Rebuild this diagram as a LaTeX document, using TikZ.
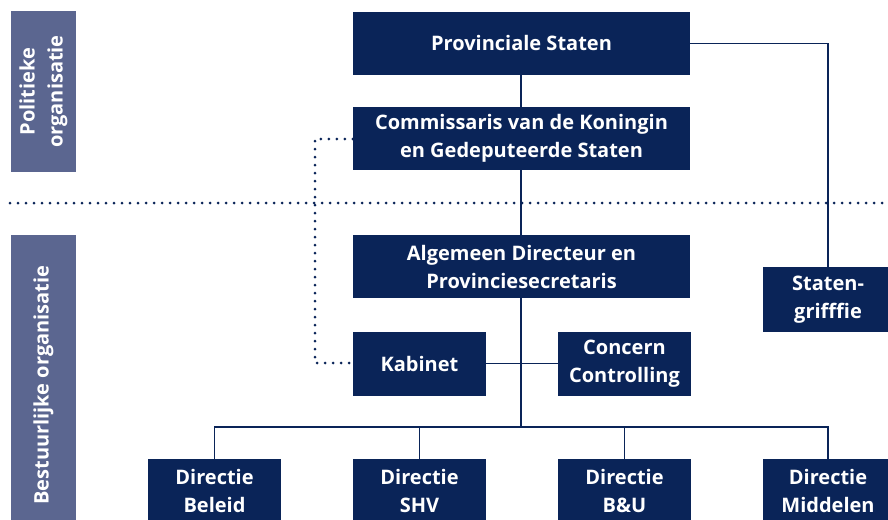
\documentclass[tikz,border=0pt]{standalone}
\usepackage{fontspec}
\setmainfont{Open Sans}
\definecolor{navy}{HTML}{0A2458}
\definecolor{lab}{HTML}{5B6690}
\begin{document}
\begin{tikzpicture}[x=1pt,y=-1pt,
  box/.style={fill=navy,text=white,font=\bfseries\fontsize{20}{28}\selectfont,align=center,inner sep=0pt},
  side/.style={fill=lab,text=white,font=\bfseries\fontsize{20}{28}\selectfont,align=center,inner sep=0pt,rotate=90},
  conn/.style={draw=navy,line width=1.8pt},
  dots/.style={draw=navy,line width=3pt,line cap=round,dash pattern=on 0pt off 8pt}]
\useasboundingbox (0,0) rectangle (888,519);
\clip (0,0) rectangle (888,519);
% side labels
\node[side,minimum width=161pt,minimum height=65pt] (pol) at (43.5,91.5) {Politieke\\organisatie};
\node[side,minimum width=300pt,minimum height=65pt] (bes) at (43.5,385) {Bestuurlijke organisatie};
% separator
\coordinate (sepL) at (10,203);
\coordinate (sepR) at (888,203);
\draw[dots] (sepL) -- (sepR);
% boxes
\node[box,minimum width=337pt,minimum height=63pt] (ps) at (521.5,43.5) {Provinciale Staten};
\node[box,minimum width=337pt,minimum height=63pt] (ck) at (521.5,138.5) {Commissaris van de Koningin\\en Gedeputeerde Staten};
\node[box,minimum width=337pt,minimum height=63pt] (ad) at (521.5,266.5) {Algemeen Directeur en\\Provinciesecretaris};
\node[box,minimum width=133pt,minimum height=64pt] (kab) at (419.5,363.5) {Kabinet};
\node[box,minimum width=133pt,minimum height=64pt] (cc) at (624.5,363.5) {Concern\\Controlling};
\node[box,minimum width=130pt,minimum height=65pt] (sg) at (828,299.5) {Staten-\\grifffie};
\node[box,minimum width=133pt,minimum height=64pt] (db) at (214.5,491) {Directie\\Beleid};
\node[box,minimum width=133pt,minimum height=64pt] (ds) at (419.5,491) {Directie\\SHV};
\node[box,minimum width=133pt,minimum height=64pt] (du) at (624.5,491) {Directie\\B\&U};
\node[box,minimum width=130pt,minimum height=64pt] (dm) at (828,491) {Directie\\Middelen};
% connectors
\coordinate (bus) at (521,427);
\coordinate (psr) at (828,43.5);
\draw[conn] (ps.south -| bus) -- (ck.north -| bus);
\draw[conn] (ck.south -| bus) -- (ad.north -| bus);
\draw[conn] (ad.south -| bus) -- (bus);
\draw[conn] (kab.east) -- (cc.west);
\draw[conn] (ps.east) -- (psr) -- (sg.north);
\draw[conn] (db.north) |- (bus) -| (dm.north);
\draw[conn] (ds.north) -- (ds.north |- bus);
\draw[conn] (du.north) -- (du.north |- bus);
% dotted link
\coordinate (dtop) at (315,139);
\coordinate (dbot) at (315,363);
\draw[dots] (ck.west |- dtop) -- (dtop) -- (dbot) -- (kab.west |- dbot);
\end{tikzpicture}
\end{document}
